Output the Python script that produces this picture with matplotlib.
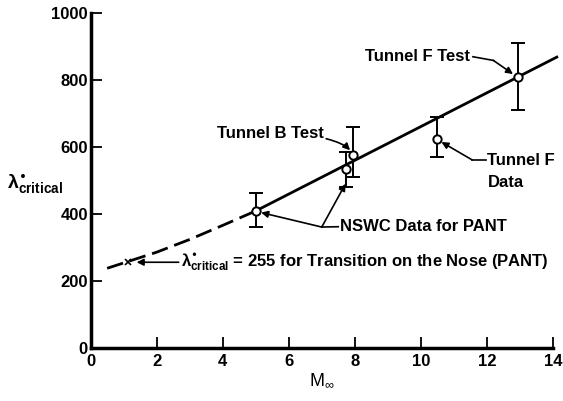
import matplotlib
matplotlib.use("Agg")
import matplotlib.pyplot as plt

plt.rcParams['font.family'] = ['Liberation Sans', 'DejaVu Sans']
plt.rcParams['mathtext.default'] = 'regular'

# Data
mach_pts = [5.0, 7.72, 7.96, 10.48, 12.93]
lam_pts = [408, 535, 577, 623, 808]
err_lo = [360, 480, 510, 571, 710]
err_hi = [462, 586, 660, 690, 909]

fit_mach = [5.0, 14.12]
fit_lam = [409, 868]

dash_mach = [0.5, 1.0, 2.0, 3.0, 4.0, 5.0]
dash_lam = [238, 254, 286, 324, 366, 409]

nose_mach = [1.14]
nose_lam = [256]

xticks = [0, 2, 4, 6, 8, 10, 12, 14]
yticks = [0, 200, 400, 600, 800, 1000]

fig = plt.figure(figsize=(5.63, 4.01), dpi=100)
ax = fig.add_axes([0.161, 0.132, 0.821, 0.836])
ax.set_xlim(0, 14)
ax.set_ylim(0, 1000)

ax.plot(fit_mach, fit_lam, color='black', lw=2.0, clip_on=False, zorder=2)
ax.plot(dash_mach, dash_lam, color='black', lw=2.0, dashes=(6, 2.5), zorder=2)
ax.plot(nose_mach, nose_lam, 'x', color='black', ms=5, mew=1.2)

lower = [l - lo for l, lo in zip(lam_pts, err_lo)]
upper = [hi - l for l, hi in zip(lam_pts, err_hi)]
ax.errorbar(mach_pts, lam_pts, yerr=[lower, upper], fmt='o', color='black',
            mfc='white', mec='black', ms=6, mew=1.4, ecolor='black',
            elinewidth=1.4, capsize=5, capthick=1.4, zorder=3)

for s in ['top', 'right']:
    ax.spines[s].set_visible(False)
for s in ['left', 'bottom']:
    ax.spines[s].set_linewidth(2.5)

ax.set_xticks(xticks)
ax.set_yticks(yticks)
ax.tick_params(direction='in', length=8, width=1.3, labelsize=12, pad=4)
ax.tick_params(axis='y', pad=2)
for lbl in ax.get_xticklabels() + ax.get_yticklabels():
    lbl.set_fontweight('bold')

ax.set_xlabel(r'$M_{\infty}$', fontsize=13, labelpad=2)
fig.text(0.012, 0.54, r'$\lambda^{•}_{critical}$', fontsize=14,
         ha='left', va='center', fontweight='bold')

fs = 12
lw_a = 1.2
arr = dict(arrowstyle='-|>', color='black', lw=lw_a, mutation_scale=10,
           shrinkA=0, shrinkB=4)

# Tunnel F Test
ax.text(11.5, 869, 'Tunnel F Test', ha='right', va='center',
        fontsize=fs, fontweight='bold')
ax.plot([11.58, 12.2], [869, 858], color='black', lw=lw_a)
ax.annotate('', xy=(mach_pts[4], lam_pts[4]), xytext=(12.2, 858),
            arrowprops=dict(arr, shrinkB=4))

# Tunnel B Test
ax.annotate('Tunnel B Test', xy=(mach_pts[2], lam_pts[2]), xytext=(7.05, 640),
            ha='right', va='center', fontsize=fs, fontweight='bold',
            arrowprops=dict(arr, connectionstyle='angle3,angleA=0,angleB=-60'))

# Tunnel F Data
ax.text(12.02, 561, 'Tunnel F', ha='left', va='center', fontsize=fs,
        fontweight='bold')
ax.text(12.02, 495, 'Data', ha='left', va='center', fontsize=fs,
        fontweight='bold')
ax.plot([11.98, 11.56], [561, 561], color='black', lw=lw_a)
ax.annotate('', xy=(mach_pts[3], lam_pts[3]), xytext=(11.56, 561),
            arrowprops=dict(arr, shrinkB=4))

# NSWC
ax.text(7.55, 362, 'NSWC Data for PANT', ha='left', va='center',
        fontsize=fs, fontweight='bold')
ax.annotate('', xy=(mach_pts[0], lam_pts[0]), xytext=(7.0, 361),
            arrowprops=dict(arr, shrinkB=4))
ax.annotate('', xy=(mach_pts[1], lam_pts[1] - 45), xytext=(7.0, 361),
            arrowprops=dict(arr, shrinkB=0))
ax.plot([7.0, 7.5], [361, 362], color='black', lw=lw_a)

# Nose annotation
ax.annotate(r'$\lambda^{•}_{critical}$ = 255 for Transition on the Nose (PANT)',
            xy=(nose_mach[0], nose_lam[0]), xytext=(2.75, 256),
            ha='left', va='center', fontsize=fs, fontweight='bold',
            arrowprops=dict(arr, shrinkB=6))

fig.savefig('out.png', dpi=100)
